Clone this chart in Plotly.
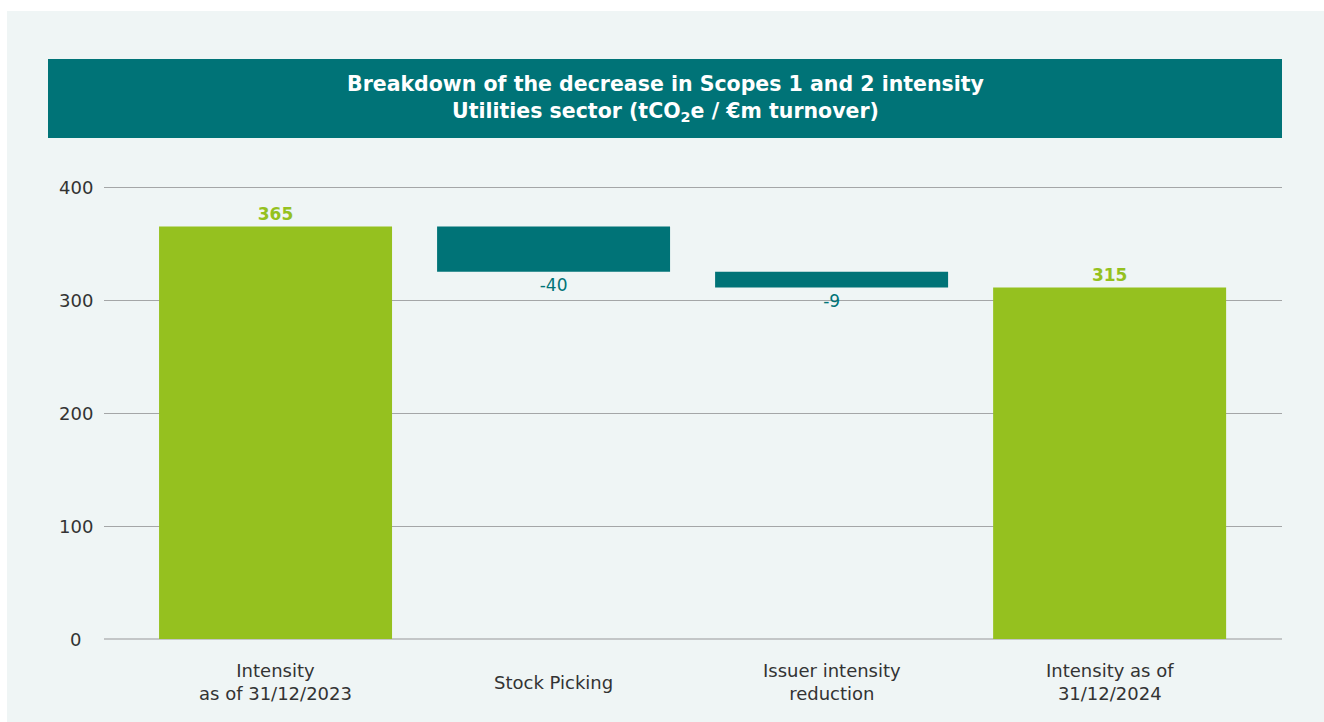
import plotly.graph_objects as go

# ---- data ----
categories = ["Intensity<br>as of 31/12/2023", "Stock Picking",
              "Issuer intensity<br>reduction", "Intensity as of<br>31/12/2024"]
bar_bottom = [0, 325, 311, 0]        # lower end of each bar
bar_top = [365, 365, 325, 311]       # upper end of each bar
bar_kind = ["total", "delta", "delta", "total"]
value_labels = ["365", "-40", "-9", "315"]
y_ticks = [0, 100, 200, 300, 400]
y_tick_labels = ["0", "100", "200", "300", "400"]
title_lines = ["Breakdown of the decrease in Scopes 1 and 2 intensity",
               "Utilities sector (tCO<sub>2</sub>e / €m turnover)"]

# ---- style ----
GREEN = "#95c11f"
TEAL = "#007377"
PANEL = "#eff5f5"
FONT = "DejaVu Sans"
TXT = "#333333"

W, H = 1324, 722
L, R, T, B = 104, 1282, 150, 639   # plot area in pixels


def px_x(p):
    return (p - L) / (R - L)


def px_y(p):
    return (B - p) / (B - T)


colors = [GREEN if k == "total" else TEAL for k in bar_kind]
texts = [f"<b>{t}</b>" if k == "total" else t for t, k in zip(value_labels, bar_kind)]
heights = [t - b if k == "total" else b - t for t, b, k in zip(bar_top, bar_bottom, bar_kind)]
bases = [b if k == "total" else t for t, b, k in zip(bar_top, bar_bottom, bar_kind)]
xpos = list(range(len(categories)))

fig = go.Figure()
fig.add_trace(go.Bar(
    x=xpos,
    y=heights,
    base=bases,
    marker=dict(color=colors, line=dict(width=0)),
    width=0.838,
    text=texts,
    textposition="outside",
    textfont=dict(family=FONT, size=17, color=colors),
    cliponaxis=False,
    hoverinfo="skip",
))

# y-scale: 400 at pixel 187, 0 at pixel 639
y_top = (B - T) / ((639 - 187) / 400)

annotations = [
    dict(xref="paper", yref="paper", x=px_x(665), y=px_y(98.5),
         xanchor="center", yanchor="middle", showarrow=False,
         text="<b>" + "<br>".join(title_lines) + "</b>",
         font=dict(family=FONT, size=20.5, color="white"), align="center"),
]
# category labels, vertically centred under each bar
for xi, cat in zip(xpos, categories):
    annotations.append(dict(
        xref="x", yref="paper", x=xi, y=px_y(682),
        xanchor="center", yanchor="middle", showarrow=False,
        text=cat, align="center",
        font=dict(family=FONT, size=18, color=TXT)))
# y tick labels, centred in the left margin
for tv, tl in zip(y_ticks, y_tick_labels):
    annotations.append(dict(
        xref="paper", yref="y", x=px_x(75.5), y=tv,
        xanchor="center", yanchor="middle", showarrow=False,
        text=tl, font=dict(family=FONT, size=18, color=TXT)))

fig.update_layout(
    width=W, height=H, autosize=False,
    margin=dict(l=L, r=W - R, t=T, b=H - B, pad=0),
    paper_bgcolor=PANEL, plot_bgcolor=PANEL,
    showlegend=False,
    font=dict(family=FONT, size=18, color=TXT),
    xaxis=dict(
        range=[-0.617, 3.62], tickmode="array",
        tickvals=xpos, showticklabels=False,
        showgrid=False, zeroline=False, showline=False, ticks="",
        fixedrange=True,
    ),
    yaxis=dict(
        range=[0, y_top], tickmode="array", tickvals=y_ticks,
        showticklabels=False,
        showgrid=True, gridcolor="#a4a6a7", gridwidth=1,
        zeroline=True, zerolinecolor="#c3c6c7", zerolinewidth=2,
        showline=False, ticks="",
        fixedrange=True,
    ),
    shapes=[
        # white outer border (top and left)
        dict(type="rect", xref="paper", yref="paper", layer="below",
             x0=px_x(0), x1=px_x(W), y0=px_y(0), y1=px_y(11),
             fillcolor="white", line=dict(width=0)),
        dict(type="rect", xref="paper", yref="paper", layer="below",
             x0=px_x(0), x1=px_x(7), y0=px_y(0), y1=px_y(H),
             fillcolor="white", line=dict(width=0)),
        # title band
        dict(type="rect", xref="paper", yref="paper", layer="below",
             x0=px_x(48), x1=px_x(1282), y0=px_y(138), y1=px_y(59),
             fillcolor=TEAL, line=dict(width=0)),
    ],
    annotations=annotations,
)

fig.write_html("out.html", config={"displayModeBar": False},
               post_script="document.body.style.margin='0';")
